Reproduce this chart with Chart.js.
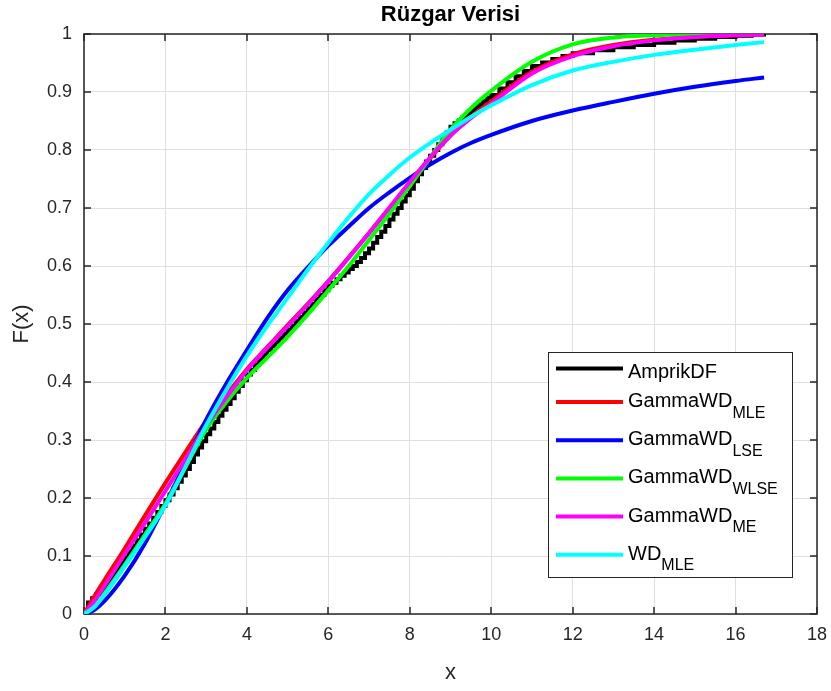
<!DOCTYPE html>
<html>
<head>
<meta charset="utf-8">
<title>Rüzgar Verisi</title>
<script src="https://cdn.jsdelivr.net/npm/chart.js@4.4.1/dist/chart.umd.min.js"></script>
<style>
  html, body { margin: 0; padding: 0; background: #fff; }
  canvas { display: block; }
</style>
</head>
<body>
<canvas id="chart" width="831" height="691"></canvas>
<script>
// grid of x values for the fitted CDF curves
var xs = [0, 0.25, 0.5, 1, 1.5, 2, 2.5, 3, 3.5, 4, 4.5, 5, 5.5, 6, 6.5, 7, 7.5, 8, 8.5, 9, 9.5, 10, 11, 12, 13, 14, 15, 16, 16.7];

var gammaMLE  = [0, 0.030, 0.058, 0.113, 0.170, 0.226, 0.280, 0.333, 0.378, 0.422, 0.460, 0.498, 0.535, 0.574, 0.615, 0.657, 0.700, 0.743, 0.786, 0.825, 0.857, 0.884, 0.935, 0.965, 0.981, 0.990, 0.995, 0.998, 0.999];
var gammaLSE  = [0, 0.007, 0.022, 0.066, 0.122, 0.190, 0.262, 0.335, 0.398, 0.455, 0.510, 0.558, 0.598, 0.635, 0.668, 0.700, 0.727, 0.752, 0.775, 0.795, 0.812, 0.826, 0.850, 0.868, 0.883, 0.897, 0.909, 0.919, 0.925];
var gammaWLSE = [0, 0.012, 0.035, 0.085, 0.137, 0.190, 0.255, 0.318, 0.366, 0.407, 0.442, 0.478, 0.517, 0.558, 0.600, 0.645, 0.690, 0.738, 0.787, 0.835, 0.872, 0.902, 0.952, 0.982, 0.994, 0.998, 1, 1, 1];
var gammaME   = [0, 0.022, 0.048, 0.103, 0.157, 0.212, 0.268, 0.325, 0.374, 0.420, 0.459, 0.496, 0.534, 0.573, 0.614, 0.657, 0.701, 0.745, 0.787, 0.825, 0.855, 0.880, 0.932, 0.962, 0.979, 0.989, 0.995, 0.998, 0.999];
var weibullMLE = [0, 0.012, 0.033, 0.082, 0.133, 0.187, 0.255, 0.325, 0.387, 0.445, 0.497, 0.545, 0.594, 0.640, 0.684, 0.724, 0.757, 0.787, 0.812, 0.835, 0.857, 0.877, 0.912, 0.937, 0.952, 0.964, 0.973, 0.981, 0.986];

// empirical distribution function, drawn as stairs
var ecdfX = [0, 0.1, 0.2, 0.3, 0.4, 0.5, 0.6, 0.7, 0.8, 0.9,
             1.0, 1.1, 1.2, 1.3, 1.4, 1.5, 1.6, 1.7, 1.8, 1.9,
             2.0, 2.1, 2.2, 2.3, 2.4, 2.5, 2.6, 2.7, 2.8, 2.9,
             3.0, 3.1, 3.2, 3.3, 3.4, 3.5, 3.6, 3.7, 3.8, 3.9,
             4.0, 4.1, 4.2, 4.3, 4.4, 4.5, 4.6, 4.7, 4.8, 4.9,
             5.0, 5.1, 5.2, 5.3, 5.4, 5.5, 5.6, 5.7, 5.8, 5.9,
             6.0, 6.1, 6.2, 6.3, 6.4, 6.5, 6.6, 6.7, 6.8, 6.9,
             7.0, 7.1, 7.2, 7.3, 7.4, 7.5, 7.6, 7.7, 7.8, 7.9,
             8.0, 8.1, 8.2, 8.3, 8.4, 8.5, 8.6, 8.7, 8.8, 8.9,
             9.0, 9.1, 9.2, 9.3, 9.4, 9.5, 9.6, 9.7, 9.8, 9.9,
             10.0, 10.2, 10.4, 10.6, 10.8, 11.0, 11.25, 11.5, 11.75, 12.0,
             12.5, 13.0, 13.5, 14.0, 14.5, 15.0, 15.5, 16.0, 16.4, 16.7];
var ecdfF = [0, 0.020, 0.027, 0.034, 0.040, 0.048, 0.058, 0.068, 0.077, 0.088,
             0.098, 0.108, 0.118, 0.127, 0.137, 0.147, 0.156, 0.166, 0.176, 0.186,
             0.196, 0.206, 0.217, 0.228, 0.239, 0.250, 0.262, 0.275, 0.287, 0.298,
             0.310, 0.320, 0.331, 0.342, 0.352, 0.362, 0.372, 0.383, 0.393, 0.403,
             0.413, 0.421, 0.430, 0.438, 0.447, 0.455, 0.462, 0.469, 0.476, 0.483,
             0.490, 0.497, 0.505, 0.512, 0.520, 0.527, 0.535, 0.543, 0.550, 0.558,
             0.566, 0.571, 0.577, 0.583, 0.589, 0.595, 0.600, 0.607, 0.614, 0.622,
             0.630, 0.640, 0.650, 0.659, 0.669, 0.680, 0.690, 0.700, 0.711, 0.722,
             0.733, 0.746, 0.758, 0.769, 0.780, 0.790, 0.800, 0.810, 0.820, 0.830,
             0.840, 0.846, 0.851, 0.857, 0.862, 0.868, 0.874, 0.879, 0.884, 0.890,
             0.895, 0.906, 0.917, 0.927, 0.936, 0.945, 0.951, 0.957, 0.962, 0.967,
             0.972, 0.977, 0.981, 0.985, 0.989, 0.992, 0.995, 0.997, 0.999, 1.0];

var xTicks = [0, 2, 4, 6, 8, 10, 12, 14, 16, 18];
var yTicks = [0, 0.1, 0.2, 0.3, 0.4, 0.5, 0.6, 0.7, 0.8, 0.9, 1];
var yTickLabels = ['0', '0.1', '0.2', '0.3', '0.4', '0.5', '0.6', '0.7', '0.8', '0.9', '1'];

var chartTitle = 'Rüzgar Verisi';
var axisFont = "'Liberation Sans Narrow', 'Liberation Sans', Arial, sans-serif";
var textFont = "'Liberation Sans', Arial, sans-serif";
var axisColor = '#262626';

function pts(xv, yv) {
    return xv.map(function (x, i) { return {x: x, y: yv[i]}; });
}

function curve(label, color, values, order) {
    return {
        label: label,
        data: pts(xs, values),
        borderColor: color,
        backgroundColor: color,
        borderWidth: 4,
        pointRadius: 0,
        fill: false,
        cubicInterpolationMode: 'monotone',
        order: order
    };
}

// axes box with inward ticks (under the curves); title and legend on top
var framePlugin = {
    id: 'frame',
    beforeDatasetsDraw: function (chart) {
        var ctx = chart.ctx, a = chart.chartArea;
        var sx = chart.scales.x, sy = chart.scales.y;
        ctx.save();
        ctx.strokeStyle = axisColor;
        ctx.lineWidth = 1.5;
        ctx.strokeRect(a.left, a.top, a.right - a.left, a.bottom - a.top);
        ctx.beginPath();
        xTicks.forEach(function (v) {
            var p = Math.round(sx.getPixelForValue(v));
            ctx.moveTo(p, a.bottom); ctx.lineTo(p, a.bottom - 7);
            ctx.moveTo(p, a.top); ctx.lineTo(p, a.top + 7);
        });
        yTicks.forEach(function (v) {
            var p = Math.round(sy.getPixelForValue(v));
            ctx.moveTo(a.left, p); ctx.lineTo(a.left + 7, p);
            ctx.moveTo(a.right, p); ctx.lineTo(a.right - 7, p);
        });
        ctx.stroke();
        ctx.restore();
    },
    afterDraw: function (chart) {
        var ctx = chart.ctx, a = chart.chartArea;
        ctx.save();

        // title centred over the axes
        ctx.fillStyle = '#000';
        ctx.font = 'bold 22px ' + textFont;
        ctx.textAlign = 'center';
        ctx.textBaseline = 'middle';
        ctx.fillText(chartTitle, (a.left + a.right) / 2, a.top - 19);

        var left = a.right - 269, top = a.bottom - 262;
        var w = 244, h = 225;
        ctx.fillStyle = '#fff';
        ctx.fillRect(left, top, w, h);
        ctx.strokeStyle = axisColor;
        ctx.lineWidth = 1;
        ctx.strokeRect(left + 0.5, top + 0.5, w, h);

        chart.data.datasets.forEach(function (ds, i) {
            var lineY = i === 0 ? top + 16.5 : top + 50 + (i - 1) * 38.2;
            var base = i === 0 ? lineY + 9 : lineY + 5;
            ctx.strokeStyle = ds.borderColor;
            ctx.lineWidth = 4;
            ctx.beginPath();
            ctx.moveTo(left + 8, lineY);
            ctx.lineTo(left + 75, lineY);
            ctx.stroke();

            var parts = ds.label.split('_');
            ctx.fillStyle = '#000';
            ctx.textBaseline = 'alphabetic';
            ctx.textAlign = 'left';
            ctx.font = '20px ' + textFont;
            ctx.fillText(parts[0], left + 80, base);
            if (parts[1]) {
                var mw = ctx.measureText(parts[0]).width;
                ctx.font = '16px ' + textFont;
                ctx.fillText(parts[1], left + 80 + mw, base + 10.6);
            }
        });
        ctx.restore();
    }
};

var ctx = document.getElementById('chart');
var chart = new Chart(ctx, {
    type: 'line',
    data: {
        datasets: [
            {
                label: 'AmprikDF',
                data: pts(ecdfX, ecdfF),
                borderColor: '#000000',
                backgroundColor: '#000000',
                borderWidth: 4,
                pointRadius: 0,
                fill: false,
                stepped: true,
                order: 6
            },
            curve('GammaWD_MLE', '#ff0000', gammaMLE, 5),
            curve('GammaWD_LSE', '#0000ff', gammaLSE, 4),
            curve('GammaWD_WLSE', '#00ff00', gammaWLSE, 3),
            curve('GammaWD_ME', '#ff00ff', gammaME, 2),
            curve('WD_MLE', '#00ffff', weibullMLE, 1)
        ]
    },
    options: {
        responsive: false,
        animation: false,
        layout: {
            padding: {left: 0, right: 14, top: 34, bottom: 0}
        },
        plugins: {
            legend: {display: false},
            tooltip: {enabled: false},
            title: {display: false}
        },
        scales: {
            x: {
                type: 'linear',
                min: 0,
                max: 18,
                afterBuildTicks: function (scale) {
                    scale.ticks = xTicks.map(function (v) { return {value: v}; });
                },
                afterFit: function (scale) {
                    scale.height = 77;
                    scale.paddingLeft = 0;
                    scale.paddingRight = 0;
                },
                grid: {color: '#dfdfdf', lineWidth: 1, drawTicks: false},
                border: {display: false},
                ticks: {
                    color: axisColor,
                    padding: 10,
                    maxRotation: 0,
                    font: {family: axisFont, size: 18}
                },
                title: {
                    display: true,
                    text: 'x',
                    color: axisColor,
                    font: {family: axisFont, size: 22, lineHeight: 1.2},
                    padding: {top: 0, bottom: 5}
                }
            },
            y: {
                type: 'linear',
                min: 0,
                max: 1,
                afterBuildTicks: function (scale) {
                    scale.ticks = yTicks.map(function (v) { return {value: v}; });
                },
                afterFit: function (scale) {
                    scale.width = 84;
                    scale.paddingTop = 0;
                    scale.paddingBottom = 0;
                },
                grid: {color: '#dfdfdf', lineWidth: 1, drawTicks: false},
                border: {display: false},
                ticks: {
                    color: axisColor,
                    padding: 12,
                    font: {family: axisFont, size: 18},
                    callback: function (value, index) { return yTickLabels[index]; }
                },
                title: {
                    display: true,
                    text: 'F(x)',
                    color: axisColor,
                    font: {family: axisFont, size: 22, lineHeight: 1.2},
                    padding: {top: 9, bottom: 0}
                }
            }
        }
    },
    plugins: [framePlugin]
});
</script>
</body>
</html>
